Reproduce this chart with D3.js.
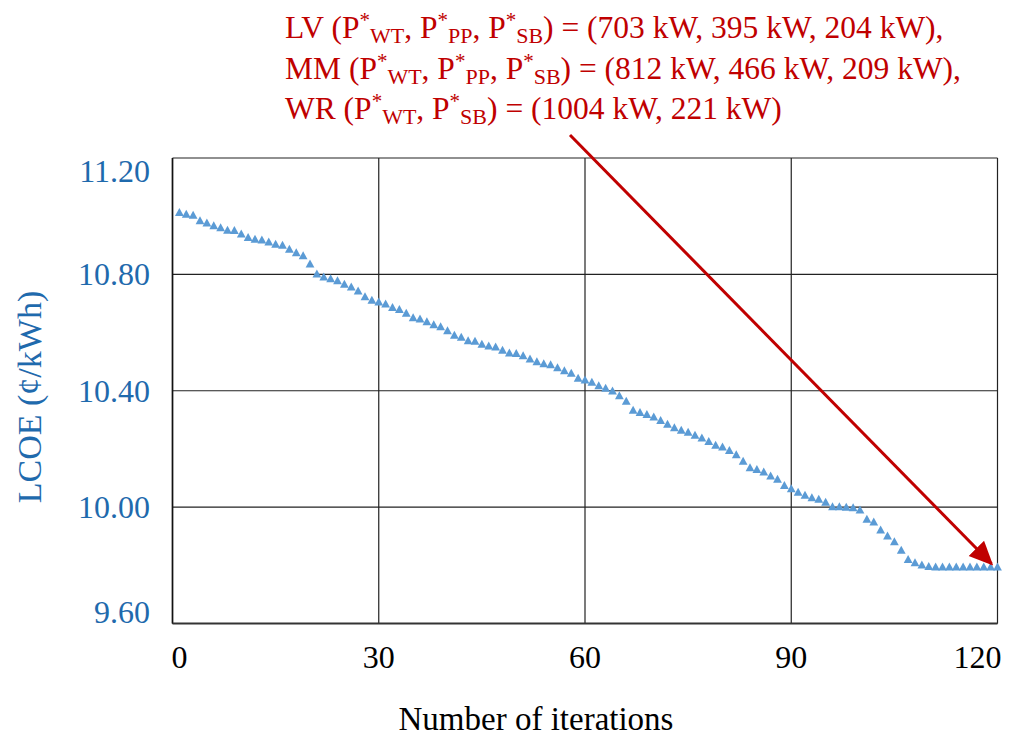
<!DOCTYPE html>
<html>
<head>
<meta charset="utf-8">
<script src="https://cdn.jsdelivr.net/npm/d3@7"></script>
<style>
  html, body { margin: 0; padding: 0; background: #fff; }
  svg { display: block; }
</style>
</head>
<body>
<svg id="chart" width="1012" height="736"></svg>
<script>
// LCOE per iteration of the optimisation run
const iterations = d3.range(1, 121);
const lcoe = [
  11.014, 11.008, 11.004, 10.985, 10.978, 10.968, 10.961, 10.953, 10.952, 10.940,
  10.928, 10.922, 10.919, 10.912, 10.905, 10.901, 10.887, 10.875, 10.865, 10.837,
  10.802, 10.792, 10.786, 10.779, 10.767, 10.758, 10.744, 10.724, 10.712, 10.706,
  10.699, 10.687, 10.680, 10.667, 10.652, 10.648, 10.638, 10.628, 10.621, 10.607,
  10.592, 10.585, 10.573, 10.571, 10.561, 10.555, 10.551, 10.540, 10.531, 10.529,
  10.521, 10.510, 10.501, 10.494, 10.490, 10.480, 10.470, 10.461, 10.444, 10.438,
  10.430, 10.418, 10.410, 10.400, 10.384, 10.365, 10.334, 10.326, 10.319, 10.311,
  10.299, 10.286, 10.274, 10.265, 10.258, 10.248, 10.239, 10.227, 10.214, 10.208,
  10.196, 10.181, 10.159, 10.136, 10.130, 10.122, 10.108, 10.097, 10.075, 10.064,
  10.052, 10.042, 10.033, 10.028, 10.018, 10.002, 10.002, 10.001, 9.999, 9.991,
  9.959, 9.950, 9.922, 9.902, 9.882, 9.853, 9.821, 9.810, 9.802, 9.797,
  9.795, 9.795, 9.795, 9.795, 9.795, 9.795, 9.795, 9.795, 9.795, 9.795
];
const xTicks = [0, 30, 60, 90, 120];
const yTicks = [9.6, 10.0, 10.4, 10.8, 11.2];
const xTitle = "Number of iterations";
const yTitle = "LCOE (¢/kWh)";

// Optimal component sizes, split into plain / superscript / subscript runs
const noteLines = [
  [["LV (P"], ["*", "sup"], ["WT", "sub"], [", P"], ["*", "sup"], ["PP", "sub"], [", P"], ["*", "sup"], ["SB", "sub"], [") = (703 kW, 395 kW, 204 kW),"]],
  [["MM (P"], ["*", "sup"], ["WT", "sub"], [", P"], ["*", "sup"], ["PP", "sub"], [", P"], ["*", "sup"], ["SB", "sub"], [") = (812 kW, 466 kW, 209 kW),"]],
  [["WR (P"], ["*", "sup"], ["WT", "sub"], [", P"], ["*", "sup"], ["SB", "sub"], [") = (1004 kW, 221 kW)"]]
];
const noteTarget = [120, 9.795];

const FONT = "'Liberation Serif', 'Times New Roman', serif";
const BLUE_TEXT = "#1f6aad";
const MARKER = "#5b9bd5";
const RED = "#c00000";

const svg = d3.select("#chart");
const plot = { left: 172.5, right: 997.5, top: 158, bottom: 623.5 };

const x = d3.scaleLinear().domain([0, 120]).range([plot.left, plot.right]);
const y = d3.scaleLinear().domain([9.6, 11.2]).range([plot.bottom, plot.top]);

// Grid lines
const grid = svg.append("g");
grid.selectAll("line.gx").data(xTicks).join("line")
  .attr("x1", d => x(d)).attr("x2", d => x(d))
  .attr("y1", plot.top).attr("y2", plot.bottom)
  .attr("stroke", "#222").attr("stroke-width", 1.2);
grid.selectAll("line.gy").data(yTicks).join("line")
  .attr("x1", plot.left).attr("x2", plot.right)
  .attr("y1", d => y(d)).attr("y2", d => y(d))
  .attr("stroke", "#222").attr("stroke-width", 1.2);

// Axis lines
svg.append("line").attr("x1", plot.left).attr("x2", plot.left)
  .attr("y1", plot.top).attr("y2", plot.bottom).attr("stroke", "#111").attr("stroke-width", 1.6);
svg.append("line").attr("x1", plot.left).attr("x2", plot.right)
  .attr("y1", plot.bottom).attr("y2", plot.bottom).attr("stroke", "#333").attr("stroke-width", 2);

// X tick labels (end labels kept inside the plot width)
svg.append("g").selectAll("text").data(xTicks).join("text")
  .attr("x", (d, i) => i === 0 ? x(d) - 1 : (i === xTicks.length - 1 ? x(d) + 4 : x(d)))
  .attr("y", 668)
  .attr("text-anchor", (d, i) => i === 0 ? "start" : (i === xTicks.length - 1 ? "end" : "middle"))
  .attr("font-family", FONT).attr("font-size", 32).attr("fill", "#000")
  .text(d => d3.format("d")(d));

// Y tick labels (end labels kept inside the plot height)
svg.append("g").selectAll("text").data(yTicks).join("text")
  .attr("x", 150)
  .attr("y", (d, i) => {
    if (i === yTicks.length - 1) return plot.top + 24;
    if (i === 0) return plot.bottom - 1;
    return y(d) + 11;
  })
  .attr("text-anchor", "end")
  .attr("font-family", FONT).attr("font-size", 32).attr("fill", BLUE_TEXT)
  .text(d => d3.format(".2f")(d));

// Axis titles
svg.append("text")
  .attr("x", 536).attr("y", 730)
  .attr("text-anchor", "middle")
  .attr("font-family", FONT).attr("font-size", 33).attr("fill", "#000")
  .text(xTitle);
svg.append("text")
  .attr("transform", `translate(41, 397) rotate(-90)`)
  .attr("text-anchor", "middle")
  .attr("font-family", FONT).attr("font-size", 34).attr("fill", BLUE_TEXT)
  .text(yTitle);

// Triangle markers
const pts = iterations.map((it, i) => [it, lcoe[i]]);
svg.append("g").selectAll("path").data(pts).join("path")
  .attr("d", d => {
    const cx = x(d[0]), cy = y(d[1]);
    const p = d3.path();
    p.moveTo(cx, cy - 4.2);
    p.lineTo(cx + 4.4, cy + 3.8);
    p.lineTo(cx - 4.4, cy + 3.8);
    p.closePath();
    return p.toString();
  })
  .attr("fill", MARKER);

// Annotation text
const note = svg.append("g").attr("font-family", FONT).attr("fill", RED);
noteLines.forEach((segs, li) => {
  const t = note.append("text").attr("x", 285).attr("y", 38 + li * 40.5).attr("font-size", 31.5);
  segs.forEach(([s, kind]) => {
    const ts = t.append("tspan").text(s);
    if (kind === "sup") ts.attr("font-size", 21).attr("baseline-shift", "11");
    else if (kind === "sub") ts.attr("font-size", 22).attr("baseline-shift", "-5");
  });
});

// Arrow from the annotation to the final point
const defs = svg.append("defs");
defs.append("marker")
  .attr("id", "arrowHead")
  .attr("viewBox", "0 0 10 10").attr("refX", 9).attr("refY", 5)
  .attr("markerWidth", 8).attr("markerHeight", 8)
  .attr("markerUnits", "strokeWidth")
  .attr("orient", "auto")
  .append("path").attr("d", "M0,0.5 L10,5 L0,9.5 Z").attr("fill", RED);

svg.append("line")
  .attr("x1", 570).attr("y1", 135)
  .attr("x2", x(noteTarget[0]) - 6).attr("y2", y(noteTarget[1]) - 3)
  .attr("stroke", RED).attr("stroke-width", 3)
  .attr("marker-end", "url(#arrowHead)");
</script>
</body>
</html>
